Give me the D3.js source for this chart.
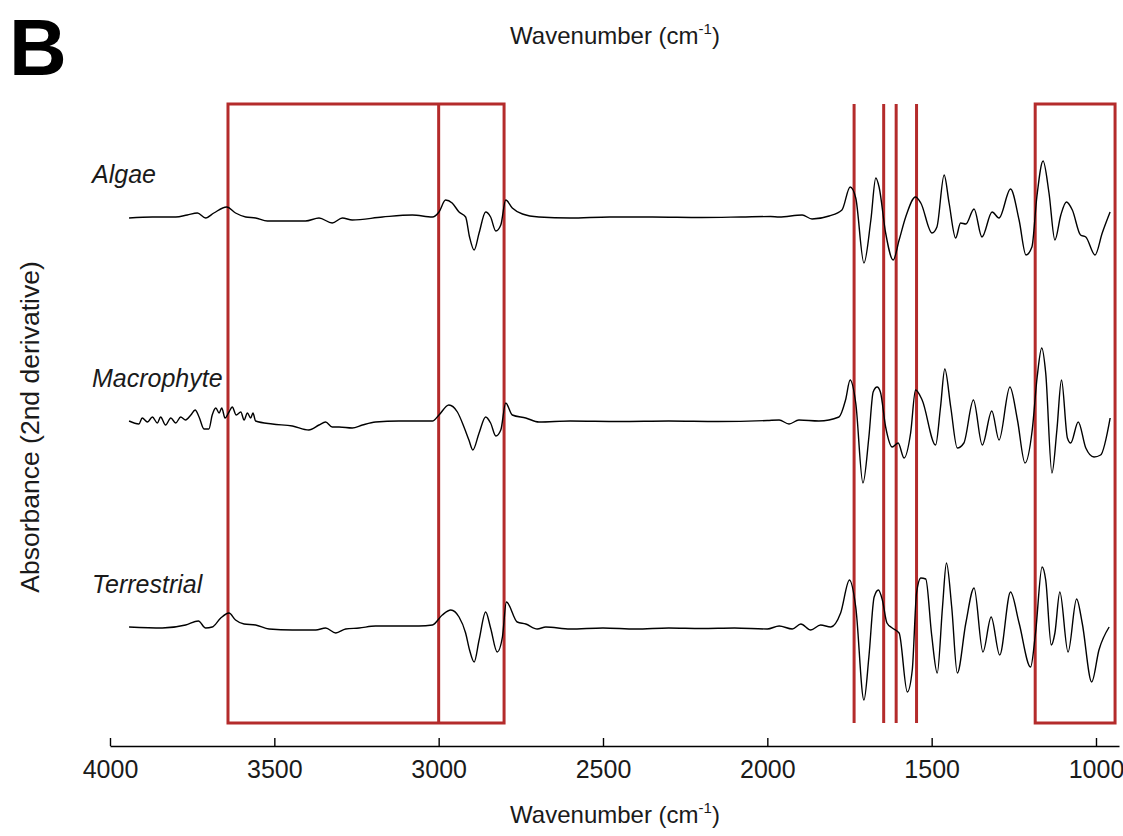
<!DOCTYPE html>
<html>
<head>
<meta charset="utf-8">
<script src="https://cdn.jsdelivr.net/npm/d3@7"></script>
<style>
  body { margin: 0; background: #fff; }
  text { font-family: "Liberation Sans", Arial, sans-serif; fill: #1a1a1a; }
</style>
</head>
<body>
<div id="vis"></div>
<script>
// second-derivative FTIR spectra, [wavenumber, value]
const algae = [
  [3942,-0.1],[3871,0],[3800,0],[3765,0.2],[3734,0.4],[3709,-0.1],[3684,0.4],[3645,1.0],
  [3618,0.4],[3587,0.0],[3557,-0.1],[3521,-0.4],[3405,-0.4],[3364,-0.1],[3324,-0.6],[3293,-0.1],
  [3263,-0.3],[3171,0],[3080,0.2],[3019,0],[2999,0.5],[2979,1.7],[2959,1.4],[2938,0.5],
  [2918,0.0],[2906,-2.0],[2892,-3.3],[2877,-1.6],[2857,0.5],[2842,0.0],[2826,-1.4],[2811,-0.8],
  [2796,1.7],[2776,0.9],[2745,0.3],[2695,0.0],[2600,-0.1],[2480,0.0],[2350,0.0],[2200,-0.05],
  [2080,0.0],[1990,0.05],[1964,0.0],[1894,0.2],[1864,-0.2],[1812,0.1],[1773,0.7],[1748,3.0],
  [1731,1.9],[1706,-4.6],[1685,-0.3],[1670,3.9],[1660,3.0],[1640,-1.6],[1617,-4.3],[1599,-2.3],
  [1579,0.0],[1549,2.0],[1533,1.4],[1499,-1.6],[1484,-1.0],[1462,4.2],[1447,1.4],[1427,-2.1],
  [1412,-0.6],[1396,-0.7],[1371,0.8],[1347,-2.0],[1316,0.5],[1295,-0.1],[1260,2.8],[1234,-0.3],
  [1213,-3.8],[1195,-3.0],[1180,2.0],[1161,5.6],[1143,2.4],[1125,-2.3],[1107,0.2],[1090,1.5],
  [1072,0.7],[1047,-1.8],[1031,-2.0],[1003,-3.8],[981,-1.6],[957,0.5]
];

const macrophyte = [
  [3942,0.0],[3912,-0.3],[3902,0.3],[3886,-0.1],[3871,0.4],[3856,-0.2],[3846,0.4],[3831,-0.4],
  [3815,0.3],[3800,-0.2],[3785,0.4],[3770,0.1],[3754,0.6],[3741,1.1],[3729,0.4],[3714,-0.8],
  [3699,-0.8],[3689,0.6],[3678,1.3],[3668,0.8],[3660,1.3],[3650,0.3],[3638,0.9],[3628,1.4],
  [3616,0.6],[3602,0.9],[3592,0.1],[3582,0.8],[3572,0.3],[3565,0.8],[3557,0.0],[3506,-0.3],
  [3445,-0.5],[3395,-0.9],[3364,-0.4],[3344,-0.1],[3324,-0.6],[3303,-0.6],[3263,-0.7],[3232,-0.4],
  [3192,-0.1],[3121,0],[3019,0],[2999,0.6],[2969,1.6],[2943,0.9],[2923,-0.6],[2908,-1.9],
  [2896,-2.9],[2877,-1.2],[2857,0.4],[2842,-0.2],[2826,-1.5],[2811,-0.9],[2796,1.8],[2776,0.6],
  [2735,0.3],[2695,-0.1],[2600,0.0],[2450,-0.05],[2300,0.0],[2150,-0.05],[2000,0.05],[1964,0.1],
  [1934,-0.3],[1904,0.1],[1843,0],[1782,0.4],[1762,2.1],[1748,4.1],[1731,1.8],[1709,-6.2],
  [1691,-1.6],[1678,2.9],[1666,3.4],[1656,2.9],[1640,-0.6],[1620,-2.6],[1602,-2.2],[1584,-3.7],
  [1564,-1.2],[1549,3.1],[1529,2.1],[1488,-2.4],[1473,1.4],[1460,5.2],[1442,1.4],[1422,-2.7],
  [1402,-2.2],[1373,2.1],[1346,-2.4],[1317,1.0],[1295,-1.9],[1262,3.4],[1239,0.1],[1216,-4.2],
  [1194,-0.9],[1179,4.4],[1165,7.3],[1153,4.8],[1134,-5.2],[1119,-0.9],[1105,4.1],[1087,-1.7],
  [1077,-2.2],[1054,-0.1],[1031,-2.7],[1006,-3.6],[986,-3.4],[957,0.3]
];

const terrestrial = [
  [3942,0.0],[3841,-0.1],[3770,0.2],[3731,0.6],[3709,-0.1],[3689,0.0],[3663,0.9],[3638,1.4],
  [3618,0.7],[3592,0.3],[3557,0.2],[3516,-0.2],[3445,-0.3],[3374,-0.3],[3344,-0.1],[3313,-0.6],
  [3283,-0.2],[3242,-0.1],[3192,0.1],[3060,0.1],[3019,0.2],[2989,1.2],[2963,1.7],[2938,1.0],
  [2918,-0.6],[2906,-2.3],[2892,-3.5],[2877,-1.3],[2857,1.5],[2842,-0.1],[2822,-2.5],[2806,-1.0],
  [2794,2.5],[2761,0.5],[2735,0.3],[2700,-0.2],[2674,0.0],[2600,-0.2],[2500,-0.1],[2400,-0.2],
  [2300,-0.1],[2200,-0.15],[2100,-0.1],[2000,-0.2],[1964,0.1],[1924,-0.2],[1898,0.3],[1868,-0.3],
  [1838,0.2],[1807,0.0],[1777,1.4],[1750,4.7],[1731,2.0],[1706,-7.3],[1691,-3.0],[1675,3.0],
  [1662,3.7],[1650,2.7],[1636,0.4],[1620,-0.1],[1599,-0.6],[1574,-6.5],[1559,-4.3],[1546,3.4],
  [1533,4.9],[1518,4.8],[1500,-0.8],[1483,-4.6],[1467,2.0],[1455,6.4],[1439,2.0],[1422,-4.6],
  [1396,0.4],[1371,3.9],[1344,-2.5],[1319,1.0],[1293,-2.8],[1260,3.5],[1234,0.4],[1199,-4.0],
  [1184,-0.6],[1164,6.0],[1153,4.7],[1136,-1.8],[1125,-0.6],[1110,3.5],[1085,-2.5],[1059,2.8],
  [1042,0.4],[1013,-5.5],[991,-2.3],[960,0.0]
];

const seriesNames = ['Algae', 'Macrophyte', 'Terrestrial'];
const seriesData = [algae, macrophyte, terrestrial];
const offsets = [52.9, 32.5, 11.9]; // vertical stacking of the traces

const xTicks = [4000, 3500, 3000, 2500, 2000, 1500, 1000];

// highlighted regions (wavenumber)
const boxes = [[3641, 2801], [1185, 942]];
const boxDividers = [3000];
const bandLines = [1736, 1646, 1608, 1546];
const boxTop = 64.2, boxBottom = 2.3;

const W = 1123, H = 836;

let svg = d3.select('#vis')
  .append('svg')
  .attr('width', W)
  .attr('height', H)
  .style('background-color', 'white');

let x = d3.scaleLinear().domain([4000, 930]).range([110, 1119]);
let y = d3.scaleLinear().domain([0, 64.2]).range([746, 104]);

// panel letter
svg.append('text')
  .attr('x', 9).attr('y', 75)
  .style('font-weight', 'bold')
  .style('font-size', '80px')
  .style('fill', '#000')
  .text('B');

// axis titles (the top one belongs to the panel above)
function wavenumberTitle(yPos) {
  let t = svg.append('text')
    .attr('x', 615).attr('y', yPos)
    .attr('text-anchor', 'middle')
    .style('font-size', '24px');
  t.append('tspan').text('Wavenumber (cm');
  t.append('tspan').attr('dy', -10).style('font-size', '15px').text('-1');
  t.append('tspan').attr('dy', 10).text(')');
}
wavenumberTitle(44);
wavenumberTitle(823);

svg.append('text')
  .attr('transform', 'translate(39,427) rotate(-90)')
  .attr('text-anchor', 'middle')
  .style('font-size', '26.5px')
  .text('Absorbance (2nd derivative)');

// red boxes and band lines
const red = '#b42b2b';
let marks = svg.append('g')
  .attr('fill', 'none')
  .attr('stroke', red)
  .attr('stroke-width', 3);

marks.selectAll('rect')
  .data(boxes)
  .join('rect')
  .attr('x', d => x(d[0]))
  .attr('y', y(boxTop))
  .attr('width', d => x(d[1]) - x(d[0]))
  .attr('height', y(boxBottom) - y(boxTop));

marks.selectAll('line')
  .data(boxDividers.concat(bandLines))
  .join('line')
  .attr('x1', d => x(d)).attr('x2', d => x(d))
  .attr('y1', y(boxTop)).attr('y2', y(boxBottom));

// spectra
let line = d3.line()
  .x(d => x(d[0]))
  .y(d => y(d[1]))
  .curve(d3.curveMonotoneX);

seriesData.forEach((data, i) => {
  svg.append('path')
    .datum(data.map(d => [d[0], d[1] + offsets[i]]))
    .attr('fill', 'none')
    .attr('stroke', '#000')
    .attr('stroke-width', 1.4)
    .attr('d', line);

  svg.append('text')
    .attr('x', 92)
    .attr('y', y(offsets[i] + 3.4))
    .style('font-style', 'italic')
    .style('font-size', '25px')
    .text(seriesNames[i]);
});

// x axis, ticks pointing up
let xAxis = svg.append('g')
  .attr('transform', `translate(0,${y(0)})`)
  .call(d3.axisBottom(x)
    .tickValues(xTicks)
    .tickFormat(d3.format('d'))
    .tickSizeInner(-8)
    .tickSizeOuter(0)
    .tickPadding(14));

xAxis.select('.domain').attr('stroke-width', 1.6);
xAxis.selectAll('.tick line').attr('stroke-width', 1.4);
xAxis.selectAll('.tick text')
  .style('font-size', '25px')
  .style('font-family', '"Liberation Sans", Arial, sans-serif')
  .attr('fill', '#1a1a1a');
</script>
</body>
</html>
